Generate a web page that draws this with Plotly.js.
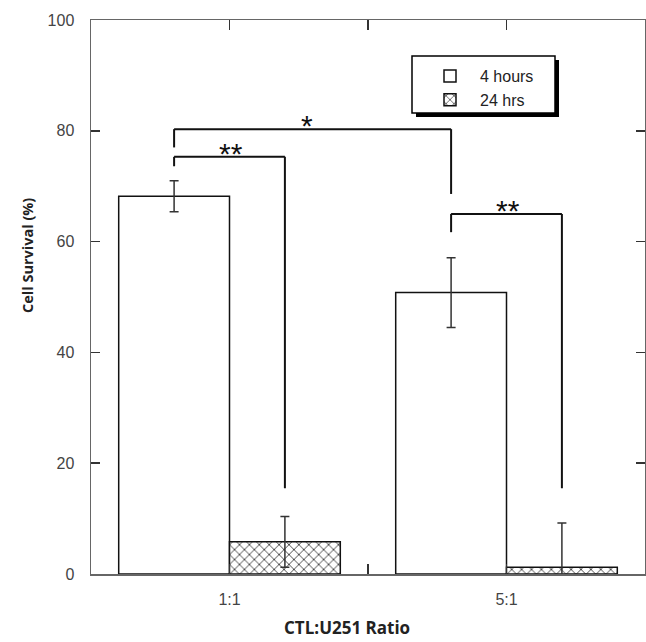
<!DOCTYPE html>
<html>
<head>
<meta charset="utf-8">
<script src="https://cdn.plot.ly/plotly-3.0.1.min.js"></script>
<style>html,body{margin:0;padding:0;background:#fff;}#chart{width:646px;height:642px;}</style>
</head>
<body>
<div id="chart"></div>
<script>
// ---- data ----
var categories = ['1:1', '5:1'];
var catPos = [0, 1];
var seriesNames = ['4 hours', '24 hrs'];
var survival4h = [68.2, 50.8];
var err4h = [2.8, 6.3];
var survival24h = [5.8, 1.2];
var err24h = [4.6, 8.0];
var yTicks = [0, 20, 40, 60, 80, 100];

// significance brackets: [xLeft, xRight, yTop, yLeftEnd, yRightEnd]
var bracketLabels = ['*', '**', '**'];
var bracketXLeft = [-0.2, -0.2, 0.8];
var bracketXRight = [0.8, 0.2, 1.2];
var bracketTop = [80.3, 75.3, 65.0];
var bracketLeftEnd = [77.0, 73.6, 61.7];
var bracketRightEnd = [68.6, 15.5, 15.5];
var starX = [0.28, 0.005, 1.005];

var tickFont = {family: 'Liberation Sans, Arial, sans-serif', size: 16, color: '#444'};

var traces = [
  {
    type: 'bar', name: seriesNames[0], x: catPos, y: survival4h,
    marker: {color: '#ffffff', line: {color: '#111', width: 1.5}},
    error_y: {type: 'data', array: err4h, visible: true, color: '#333', thickness: 1.5, width: 4.5}
  },
  {
    type: 'bar', name: seriesNames[1], x: catPos, y: survival24h,
    marker: {color: '#ffffff', line: {color: '#111', width: 1.5},
      pattern: {shape: 'x', fgcolor: '#111', bgcolor: '#ffffff', size: 7, solidity: 0.2}},
    error_y: {type: 'data', array: err24h, visible: true, color: '#333', thickness: 1.5, width: 4.5}
  }
];

var shapes = [];
var annotations = [];
for (var i = 0; i < bracketLabels.length; i++) {
  var ln = {color: '#111', width: 2};
  shapes.push({type: 'line', xref: 'x', yref: 'y', x0: bracketXLeft[i], x1: bracketXRight[i], y0: bracketTop[i], y1: bracketTop[i], line: ln});
  shapes.push({type: 'line', xref: 'x', yref: 'y', x0: bracketXLeft[i], x1: bracketXLeft[i], y0: bracketTop[i], y1: bracketLeftEnd[i], line: ln});
  shapes.push({type: 'line', xref: 'x', yref: 'y', x0: bracketXRight[i], x1: bracketXRight[i], y0: bracketTop[i], y1: bracketRightEnd[i], line: ln});
  annotations.push({xref: 'x', yref: 'y', x: starX[i], y: bracketTop[i], yanchor: 'bottom', yshift: -15,
    text: bracketLabels[i], showarrow: false, font: {family: 'Liberation Sans, Arial, sans-serif', size: 30, color: '#111'}});
}

// legend frame with drop shadow (paper coords)
var pxW = 554, pxH = 554;
var bx0 = (412 - 91) / pxW, bx1 = (555 - 91) / pxW;
var by0 = (574 - 113) / pxH, by1 = (574 - 56) / pxH;
shapes.push({type: 'rect', xref: 'paper', yref: 'paper', x0: bx0 + 4 / pxW, x1: bx1 + 4 / pxW, y0: by0 - 4 / pxH, y1: by1 - 4 / pxH,
  fillcolor: '#000', line: {width: 0}, layer: 'above'});
shapes.push({type: 'rect', xref: 'paper', yref: 'paper', x0: bx0, x1: bx1, y0: by0, y1: by1,
  fillcolor: '#fff', line: {color: '#000', width: 1.5}, layer: 'above'});

annotations.push({xref: 'paper', yref: 'paper', x: (347 - 91) / pxW, y: -(641 - 574) / pxH, yanchor: 'bottom', xanchor: 'center',
  text: '<b>CTL:U251 Ratio</b>', showarrow: false, font: {family: 'Open Sans, sans-serif', size: 17, color: '#222'}});
annotations.push({xref: 'paper', yref: 'paper', x: -(91 - 28) / pxW, y: (574 - 256) / pxH, yanchor: 'middle', xanchor: 'center', textangle: -90,
  text: '<b>Cell Survival (%)</b>', showarrow: false, font: {family: 'Open Sans, sans-serif', size: 14.5, color: '#222'}});

var layout = {
  width: 646, height: 642,
  margin: {l: 91, r: 1, t: 20, b: 68, pad: 0},
  paper_bgcolor: '#fff', plot_bgcolor: '#fff',
  barmode: 'group', bargap: 0.2, bargroupgap: 0,
  showlegend: true,
  legend: {x: (420 - 91) / pxW, y: (574 - 59) / pxH, xanchor: 'left', yanchor: 'top',
    bgcolor: 'rgba(0,0,0,0)', borderwidth: 0, itemwidth: 50, tracegroupgap: 0,
    font: {family: 'Liberation Sans, Arial, sans-serif', size: 16, color: '#222'}},
  xaxis: {
    range: [-0.5, 1.5], tickvals: [catPos[0], 0.5, catPos[1]], ticktext: [categories[0], '', categories[1]],
    ticks: 'inside', ticklen: 10, tickwidth: 1.5, tickcolor: '#333', ticklabelstandoff: 10,
    showline: true, linecolor: '#666', linewidth: 1.5, mirror: 'ticks',
    showgrid: false, zeroline: false, tickfont: tickFont, fixedrange: true
  },
  yaxis: {
    range: [0, 100], tickvals: yTicks,
    ticks: 'inside', ticklen: 9, tickwidth: 1.5, tickcolor: '#333', ticklabelstandoff: 12,
    showline: true, linecolor: '#666', linewidth: 1.5, mirror: 'ticks',
    showgrid: false, zeroline: false, tickfont: tickFont, fixedrange: true
  },
  shapes: shapes,
  annotations: annotations
};

Plotly.newPlot('chart', traces, layout, {displayModeBar: false, staticPlot: true});
</script>
</body>
</html>
